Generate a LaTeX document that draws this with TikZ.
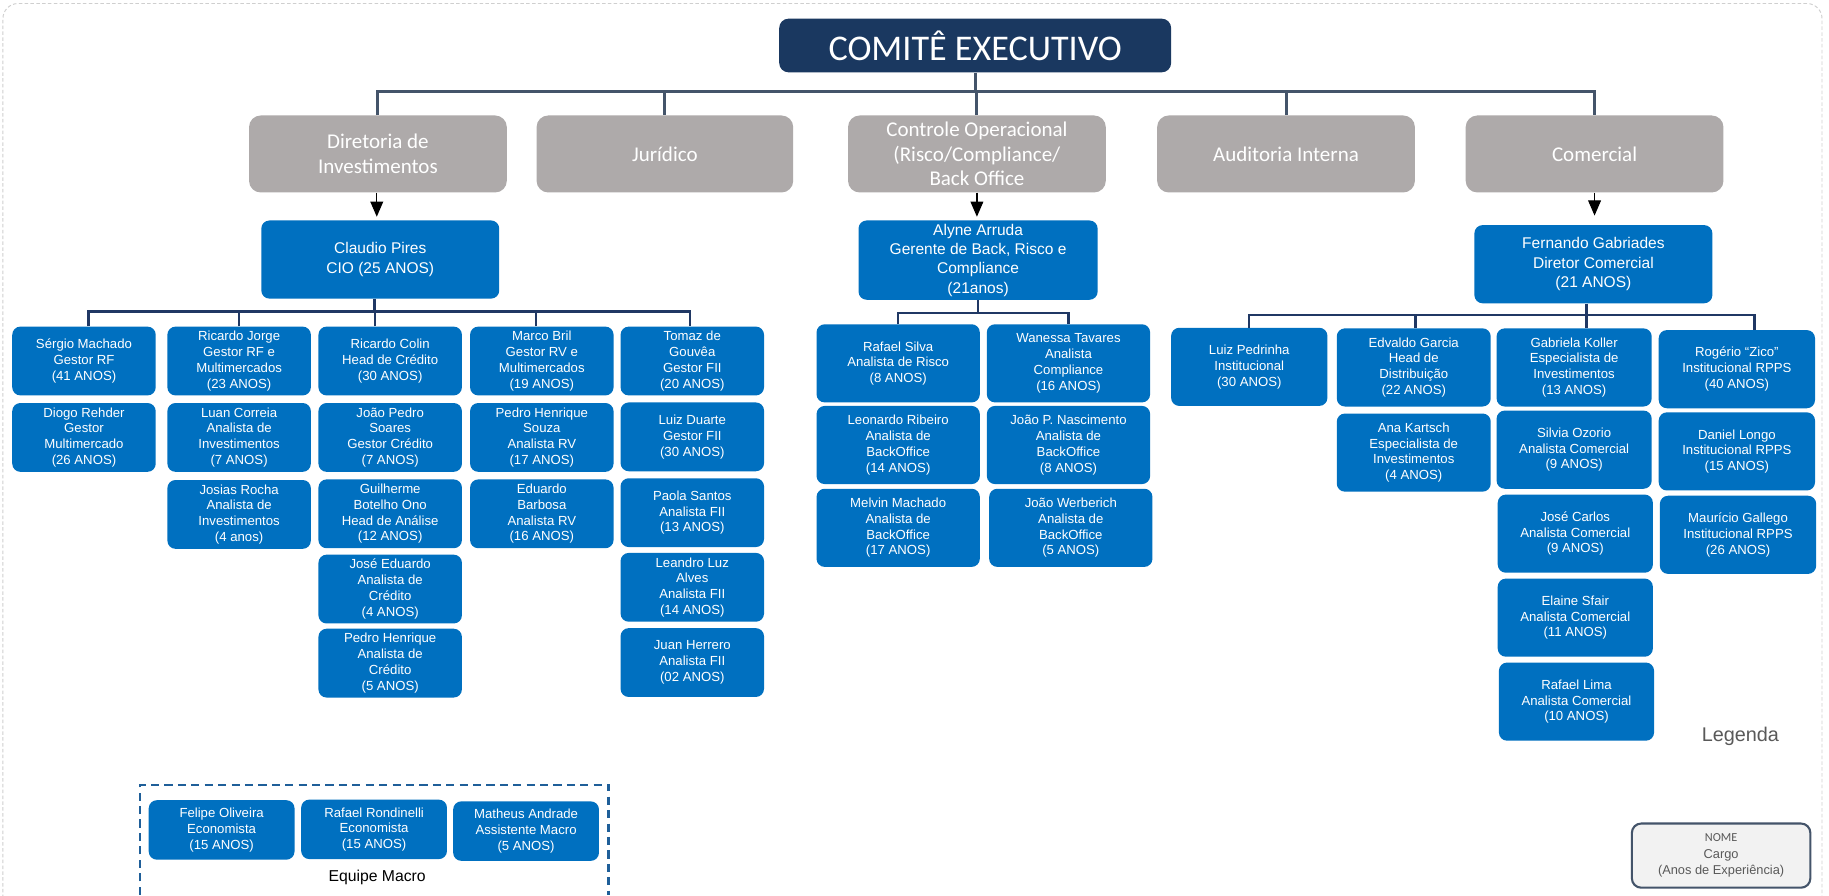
\documentclass[tikz,border=0pt]{standalone}
\usepackage{fontspec}
\setmainfont{Liberation Sans}
\newfontfamily\calfont{Carlito}
\usetikzlibrary{arrows.meta}
\definecolor{pblue}{HTML}{0070C0}
\definecolor{navy}{HTML}{1A3860}
\definecolor{gbox}{HTML}{AEAAAA}
\definecolor{slate}{HTML}{44546A}
\definecolor{busc}{HTML}{203864}
\definecolor{macroc}{HTML}{1F5F99}
\definecolor{legtext}{HTML}{595959}
\definecolor{legfill}{HTML}{F2F2F2}
\definecolor{framec}{HTML}{CFCFCF}
\begin{document}
\begin{tikzpicture}[x=1pt,y=-1pt,
 person/.style={rectangle, rounded corners=7pt, fill=pblue, text=white, align=center, inner sep=1pt, font=\fontsize{11.3}{13.5}\selectfont},
 lead/.style={person, minimum width=204pt, minimum height=67pt, font=\fontsize{13.3}{16.5}\selectfont},
 pinv/.style={person, minimum width=123pt, minimum height=59pt},
 pctl/.style={person, minimum width=140pt, minimum height=67pt},
 pcom/.style={person, minimum width=133pt, minimum height=67pt},
 pmac/.style={person, minimum width=125pt, minimum height=51pt},
 dept/.style={rectangle, rounded corners=10pt, fill=gbox, text=white, align=center, minimum width=221pt, minimum height=66pt, font=\calfont\fontsize{18}{21}\selectfont},
 conn/.style={draw=busc, line width=2pt},
 topconn/.style={draw=slate, line width=2.6pt},
 arr/.style={draw=black, line width=1pt, -{Triangle[width=11pt,length=13pt]}},
]
\useasboundingbox (0,0) rectangle (1568,768);
\clip (0,0) rectangle (1568,768);
\fill[white] (0,0) rectangle (1568,768);
\draw[framec, line width=0.8pt, dash pattern=on 3pt off 2pt, rounded corners=13pt] (2.5,800) -- (2.5,3) -- (1562,3) -- (1562,800);

% top
\node[rectangle, rounded corners=8pt, fill=navy, text=white, minimum width=336pt, minimum height=46pt, font=\calfont\fontsize{31}{33}\selectfont] (ce) at (836,39) {COMITÊ EXECUTIVO};

\node[dept] (dir) at (324,132) {Diretoria de\\Investimentos};
\node[dept, minimum width=220pt] (jur) at (570,132) {Jurídico};
\node[dept] (ctl) at (837.5,132) {Controle Operacional\\(Risco/Compliance/\\Back Office};
\node[dept] (aud) at (1102.5,132) {Auditoria Interna};
\node[dept] (com) at (1367,132) {Comercial};

\coordinate (topbus) at (0,78.5);
\draw[topconn] (ce.south) -- (ce.south |- topbus);
\draw[topconn] (dir.north) -- (dir.north |- topbus) -- (com.north |- topbus) -- (com.north);
\draw[topconn] (jur.north) -- (jur.north |- topbus);
\draw[topconn] (ctl.north) -- (ctl.north |- topbus);
\draw[topconn] (aud.north) -- (aud.north |- topbus);

% leads
\node[lead] (cp) at (326,222.5) {Claudio Pires\\CIO (25 ANOS)};
\node[lead, minimum width=205pt, minimum height=68pt] (aa) at (838.5,223) {Alyne Arruda\\Gerente de Back, Risco e\\Compliance\\(21anos)};
\node[lead] (fg) at (1366,226.5) {Fernando Gabriades\\Diretor Comercial\\(21 ANOS)};

\draw[arr, shorten >=3pt] ([xshift=-1pt]dir.south) -- ([xshift=-1pt]dir.south |- cp.north);
\draw[arr, shorten >=3pt] (ctl.south) -- (ctl.south |- aa.north);
\draw[arr, shorten >=8pt] (com.south) -- (com.south |- fg.north);

% investimentos team
\node[pinv] (i11) at (72,309.5) {Sérgio Machado\\Gestor RF\\(41 ANOS)};
\node[pinv] (i12) at (72,375) {Diogo Rehder\\Gestor\\Multimercado\\(26 ANOS)};
\node[pinv] (i21) at (205,309.5) {Ricardo Jorge\\Gestor RF e\\Multimercados\\(23 ANOS)};
\node[pinv] (i22) at (205,375) {Luan Correia\\Analista de\\Investimentos\\(7 ANOS)};
\node[pinv] (i23) at (205,441) {Josias Rocha\\Analista de\\Investimentos\\(4 anos)};
\node[pinv] (i31) at (334.5,309.5) {Ricardo Colin\\Head de Crédito\\(30 ANOS)};
\node[pinv] (i32) at (334.5,375) {João Pedro\\Soares\\Gestor Crédito\\(7 ANOS)};
\node[pinv] (i33) at (334.5,440.5) {Guilherme\\Botelho Ono\\Head de Análise\\(12 ANOS)};
\node[pinv] (i34) at (334.5,505) {José Eduardo\\Analista de\\Crédito\\(4 ANOS)};
\node[pinv] (i35) at (334.5,568.5) {Pedro Henrique\\Analista de\\Crédito\\(5 ANOS)};
\node[pinv] (i41) at (464.5,309.5) {Marco Bril\\Gestor RV e\\Multimercados\\(19 ANOS)};
\node[pinv] (i42) at (464.5,375) {Pedro Henrique\\Souza\\Analista RV\\(17 ANOS)};
\node[pinv] (i43) at (464.5,440.5) {Eduardo\\Barbosa\\Analista RV\\(16 ANOS)};
\node[pinv] (i51) at (593.5,309.5) {Tomaz de\\Gouvêa\\Gestor FII\\(20 ANOS)};
\node[pinv] (i52) at (593.5,374.5) {Luiz Duarte\\Gestor FII\\(30 ANOS)};
\node[pinv] (i53) at (593.5,439.5) {Paola Santos\\Analista FII\\(13 ANOS)};
\node[pinv] (i54) at (593.5,503.5) {Leandro Luz\\Alves\\Analista FII\\(14 ANOS)};
\node[pinv] (i55) at (593.5,568) {Juan Herrero\\Analista FII\\(02 ANOS)};

\coordinate (ibus) at (0,267);
\draw[conn] ([xshift=-5pt]cp.south) -- ([xshift=-5pt]cp.south |- ibus);
\draw[conn] ([xshift=4pt]i11.north) -- ([xshift=4pt]i11.north |- ibus) -- ([xshift=-2pt]i51.north |- ibus) -- ([xshift=-2pt]i51.north);
\draw[conn] (i21.north) -- (i21.north |- ibus);
\draw[conn] ([xshift=-13pt]i31.north) -- ([xshift=-13pt]i31.north |- ibus);
\draw[conn] ([xshift=-5pt]i41.north) -- ([xshift=-5pt]i41.north |- ibus);

% controle team
\node[pctl] (c11) at (770,311.5) {Rafael Silva\\Analista de Risco\\(8 ANOS)};
\node[pctl] (c12) at (770,381.5) {Leonardo Ribeiro\\Analista de\\BackOffice\\(14 ANOS)};
\node[pctl] (c13) at (770,452.5) {Melvin Machado\\Analista de\\BackOffice\\(17 ANOS)};
\node[pctl] (c21) at (916,311.5) {Wanessa Tavares\\Analista\\Compliance\\(16 ANOS)};
\node[pctl] (c22) at (916,381.5) {João P. Nascimento\\Analista de\\BackOffice\\(8 ANOS)};
\node[pctl] (c23) at (918,452.5) {João Werberich\\Analista de\\BackOffice\\(5 ANOS)};

\coordinate (cbus) at (0,268.5);
\draw[conn] (aa.south) -- (aa.south |- cbus);
\draw[conn] (c11.north) -- (c11.north |- cbus) -- (c21.north |- cbus) -- (c21.north);

% comercial team
\node[pcom, minimum width=134pt] (m11) at (1071,314.5) {Luiz Pedrinha\\Institucional\\(30 ANOS)};
\node[pcom, minimum width=132pt] (m21) at (1212,315) {Edvaldo Garcia\\Head de\\Distribuição\\(22 ANOS)};
\node[pcom, minimum width=132pt] (m22) at (1212,388) {Ana Kartsch\\Especialista de\\Investimentos\\(4 ANOS)};
\node[pcom] (m31) at (1349.5,315) {Gabriela Koller\\Especialista de\\Investimentos\\(13 ANOS)};
\node[pcom] (m32) at (1349.5,385.5) {Silvia Ozorio\\Analista Comercial\\(9 ANOS)};
\node[pcom] (m33) at (1350.5,457.5) {José Carlos\\Analista Comercial\\(9 ANOS)};
\node[pcom] (m34) at (1350.5,529.5) {Elaine Sfair\\Analista Comercial\\(11 ANOS)};
\node[pcom] (m35) at (1351.5,601.5) {Rafael Lima\\Analista Comercial\\(10 ANOS)};
\node[pcom, minimum width=134pt] (m41) at (1489,316.5) {Rogério “Zico”\\Institucional RPPS\\(40 ANOS)};
\node[pcom, minimum width=134pt] (m42) at (1489,387) {Daniel Longo\\Institucional RPPS\\(15 ANOS)};
\node[pcom, minimum width=134pt] (m43) at (1490,458.5) {Maurício Gallego\\Institucional RPPS\\(26 ANOS)};

\coordinate (mbus) at (0,270);
\draw[conn] ([xshift=-6pt]fg.south) -- ([xshift=-6pt]fg.south |- mbus);
\draw[conn] (m11.north) -- (m11.north |- mbus) -- ([xshift=15pt]m41.north |- mbus) -- ([xshift=15pt]m41.north);
\draw[conn] ([xshift=1.5pt]m21.north) -- ([xshift=1.5pt]m21.north |- mbus);
\draw[conn] ([xshift=10.5pt]m31.north) -- ([xshift=10.5pt]m31.north |- mbus);

% Equipe Macro
\draw[macroc, line width=2.4pt, dash pattern=on 7pt off 4.5pt] (120,767) -- (120,673) -- (522,673) -- (522,767);
\node[pmac] (q1) at (190,711.5) {Felipe Oliveira\\Economista\\(15 ANOS)};
\node[pmac] (q2) at (320.7,711) {Rafael Rondinelli\\Economista\\(15 ANOS)};
\node[pmac] (q3) at (451,712.5) {Matheus Andrade\\Assistente Macro\\(5 ANOS)};
\node[font=\fontsize{13.5}{16}\selectfont, text=black] (eqm) at (323.3,752) {Equipe Macro};

% Legend
\node[text=legtext, font=\fontsize{17}{20}\selectfont] (legt) at (1492,631) {Legenda};
\node[rectangle, rounded corners=8pt, draw=slate, line width=1.8pt, fill=legfill, minimum width=153pt, minimum height=55pt, text=legtext, align=center, inner sep=1pt, font=\fontsize{11}{14}\selectfont] (leg) at (1475.5,733.5) {{\calfont\fontsize{10.5}{14}\selectfont NOME}\\Cargo\\(Anos de Experiência)};
\end{tikzpicture}
\end{document}
